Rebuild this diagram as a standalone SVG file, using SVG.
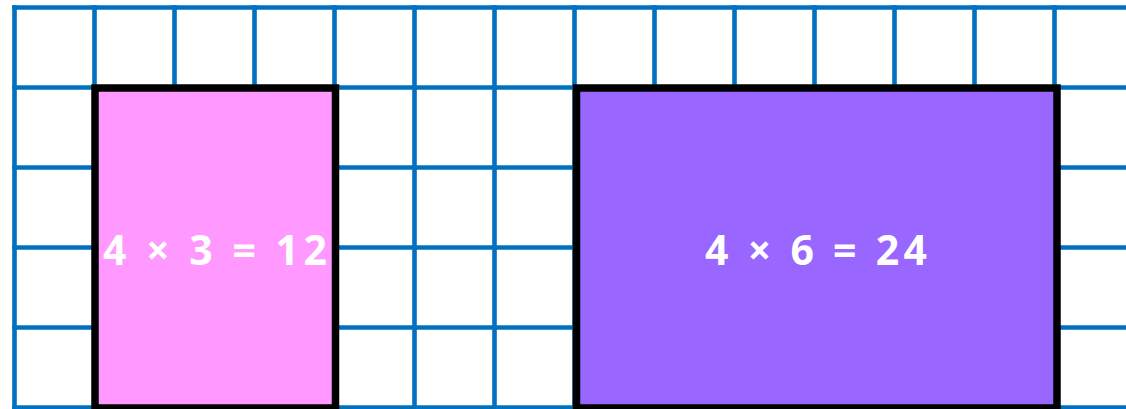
<svg xmlns="http://www.w3.org/2000/svg" width="1126" height="409" viewBox="0 0 1126 409">
<style>
.g{stroke:#0070C0;stroke-width:4.6;fill:none}
.r{stroke:#000;stroke-width:7.5;stroke-linejoin:miter}
.t{font-family:"Open Sans","Lato",sans-serif;font-weight:bold;font-size:41px;fill:#fff;text-anchor:middle}
</style>
<rect width="1126" height="409" fill="#fff"/>
<g id="grid" class="g">
<path d="M14.5,5.2V409M94.5,5.2V409M174.5,5.2V409M254.5,5.2V409M334.5,5.2V409M414.5,5.2V409M494.5,5.2V409M574.5,5.2V409M654.5,5.2V409M734.5,5.2V409M814.5,5.2V409M894.5,5.2V409M974.5,5.2V409M1054.5,5.2V409"/>
<path d="M12.2,7.5H1126M12.2,87.5H1126M12.2,167.5H1126M12.2,247.5H1126M12.2,327.5H1126M12.2,407.5H1126"/>
</g>
<g id="rect1">
<rect class="r" x="95" y="88" width="240.5" height="320" fill="#FF99FF"/>
<text class="t" x="215" y="265" textLength="224" lengthAdjust="spacing">4 × 3 = 12</text>
</g>
<g id="rect2">
<rect class="r" x="576.5" y="88" width="480.5" height="320" fill="#9966FF"/>
<text class="t" x="816" y="265" textLength="222" lengthAdjust="spacing">4 × 6 = 24</text>
</g>
</svg>
